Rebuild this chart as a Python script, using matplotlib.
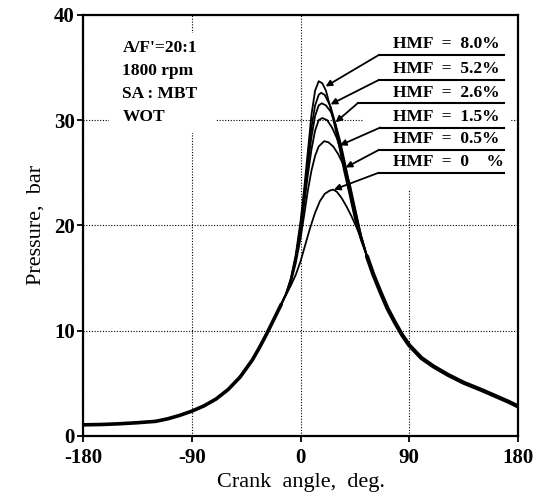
import matplotlib
matplotlib.use("Agg")
import matplotlib.pyplot as plt
import numpy as np
from matplotlib.patches import Rectangle

plt.rcParams["font.family"] = ["Liberation Serif", "DejaVu Serif"]
plt.rcParams["axes.unicode_minus"] = False

# compression stroke, shared by every case
comp_deg = [-180, -165, -150, -135, -120, -110, -100, -90, -80, -70, -60, -50, -40, -34, -28, -22, -16]
comp_p = [1.05, 1.08, 1.15, 1.25, 1.38, 1.62, 1.95, 2.35, 2.85, 3.5, 4.4, 5.6, 7.2, 8.4, 9.7, 11.1, 12.5]

# expansion stroke, shared by every case
exp_deg = [55, 60, 66, 72, 78, 84, 90, 100, 110, 122, 135, 150, 165, 172, 180]
exp_p = [17.05, 15.4, 13.7, 12.1, 10.8, 9.6, 8.6, 7.4, 6.6, 5.8, 5.05, 4.35, 3.6, 3.25, 2.8]

# combustion part of each case (-12 .. 55 deg)
hmf_labels = ["HMF  =  8.0%", "HMF  =  5.2%", "HMF  =  2.6%",
              "HMF  =  1.5%", "HMF  =  0.5%", "HMF  =  0    %"]
mid_deg = {
    "8.0": [-12, -8, -4, 0, 3, 6, 9, 12, 15, 18, 21, 24, 28, 32, 36, 40, 45, 50],
    "5.2": [-12, -8, -4, 0, 3, 6, 9, 12, 15, 17, 20, 24.8, 28, 32, 36, 40, 45, 50],
    "2.6": [-12, -8, -4, 0, 3, 6, 9, 12, 15, 17.5, 21, 25, 29, 33, 37, 41, 45, 50],
    "1.5": [-12, -8, -4, 0, 3, 6, 9, 12, 15, 18, 22, 26, 30, 32.5, 36, 40, 45, 50],
    "0.5": [-12, -8, -4, 0, 3, 6, 9, 12, 15, 19.5, 23, 27, 31, 34, 37.3, 41, 45, 50],
    "0": [-12, -8, -4, 0, 4, 8, 12, 16, 20, 24, 27, 30, 34, 38, 42, 46, 50],
}
mid_p = {
    "8.0": [13.5, 15.0, 17.2, 20.4, 23.5, 27.0, 30.5, 32.8, 33.7, 33.5, 32.8, 31.5, 29.6, 27.5, 25.2, 23.2, 20.6, 18.6],
    "5.2": [13.5, 14.9, 17.0, 20.0, 23.0, 26.3, 29.3, 31.4, 32.4, 32.6, 32.4, 31.3, 30.0, 28.0, 25.9, 23.7, 21.0, 18.8],
    "2.6": [13.5, 14.8, 16.9, 19.8, 22.6, 25.7, 28.4, 30.4, 31.4, 31.6, 31.4, 30.8, 29.6, 27.9, 25.8, 23.6, 21.4, 19.0],
    "1.5": [13.5, 14.7, 16.7, 19.4, 22.0, 24.8, 27.2, 29.0, 30.0, 30.2, 30.0, 29.3, 28.3, 27.4, 25.9, 23.9, 21.4, 19.0],
    "0.5": [13.5, 14.6, 16.4, 18.8, 21.0, 23.3, 25.2, 26.6, 27.5, 28.0, 27.9, 27.5, 26.8, 26.1, 25.3, 23.8, 21.7, 19.1],
    "0": [13.4, 14.3, 15.3, 16.6, 18.2, 19.8, 21.2, 22.3, 23.0, 23.3, 23.4, 23.2, 22.6, 21.8, 20.9, 19.9, 18.8],
}
# where each leader line points on its curve
arrow_tip = {"8.0": (20.7, 33.2), "5.2": (24.8, 31.5), "2.6": (29, 29.8),
             "1.5": (32.5, 27.6), "0.5": (37.3, 25.5), "0": (27.6, 23.4)}

fig = plt.figure(figsize=(5.47, 4.97), dpi=100)
ax = fig.add_axes([0.152, 0.123, 0.795, 0.847])

for k in mid_deg:
    d = np.concatenate([comp_deg, mid_deg[k], exp_deg])
    p = np.concatenate([comp_p, mid_p[k], exp_p])
    ax.plot(d, p, color="k", lw=1.3, zorder=3)
ax.plot(comp_deg, comp_p, color="k", lw=2.6, zorder=3, solid_capstyle="round")
ax.plot(exp_deg, exp_p, color="k", lw=3.0, zorder=3, solid_capstyle="round")

ax.set_xlim(-180, 180)
ax.set_ylim(0, 40)
ax.set_xticks([-180, -90, 0, 90, 180])
ax.set_yticks([0, 10, 20, 30, 40])
ax.grid(True, color="k", lw=0.8, linestyle=(0, (1, 1.5)), zorder=0)
ax.set_axisbelow(True)
ax.tick_params(direction="out", length=4, width=1.3, labelsize=15)
ax.tick_params(axis="x", pad=5)
ax.tick_params(axis="y", pad=2)
for t in ax.get_xticklabels() + ax.get_yticklabels():
    t.set_fontweight("bold")
for s in ax.spines.values():
    s.set_linewidth(1.6)

ax.set_xlabel("Crank  angle,  deg.", fontsize=16, labelpad=3)
ax.set_ylabel("Pressure,  bar", fontsize=16, labelpad=6)

# white boxes that hide the grid behind the notes
ax.add_patch(Rectangle((-159, 28.8), 89, 9.5, facecolor="white", edgecolor="none", zorder=1))
ax.add_patch(Rectangle((52, 23.4), 122, 16.6, facecolor="white", edgecolor="none", zorder=1))

notes = ["A/F'=20:1", "1800 rpm", "SA : MBT", "WOT"]
for i, s in enumerate(notes):
    ax.text(-147.5, 36.85 - i * 2.18, s, fontsize=12.5, fontweight="bold",
            ha="left", va="center", zorder=4)

line_y = [36.18, 33.81, 31.6, 29.3, 27.16, 25.0]
line_x0 = [64.6, 64.6, 47.2, 66.0, 64.6, 64.6]
for k, lab, ly, lx in zip(mid_deg, hmf_labels, line_y, line_x0):
    ax.plot([lx, 168], [ly, ly], color="k", lw=1.5, zorder=4)
    ax.text(76.6, ly + 0.25, lab, fontsize=12.5, fontweight="bold",
            ha="left", va="bottom", zorder=4)
    ax.annotate("", xy=arrow_tip[k], xytext=(lx, ly),
                arrowprops=dict(arrowstyle="-|>", color="k", lw=1.3,
                                mutation_scale=9, shrinkA=0, shrinkB=0),
                zorder=4)

fig.savefig("out.png", dpi=100)
